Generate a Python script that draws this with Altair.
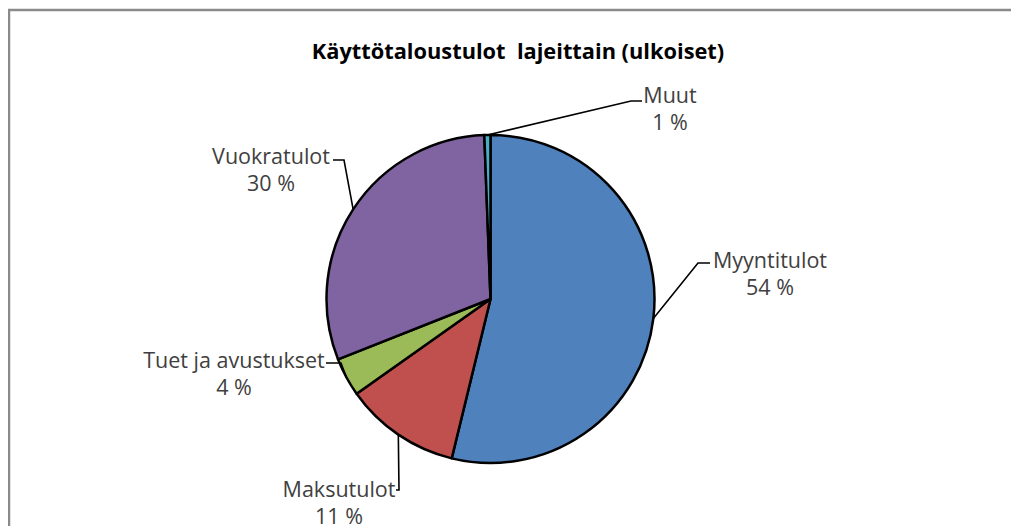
import math
import altair as alt
import pandas as pd

# ---- data ----
categories = ["Myyntitulot", "Maksutulot", "Tuet ja avustukset", "Vuokratulot", "Muut"]
values = [53.8, 11.4, 3.8, 30.4, 0.6]
colors = ["#4F81BD", "#C0504D", "#9BBB59", "#8064A2", "#4BACC6"]
title_text = "Käyttötaloustulot\u00a0 lajeittain (ulkoiset)"

# ---- layout (page pixel coordinates) ----
W, H = 1003, 518
OFF = 8
CX, CY, R = 490.5, 299.0, 164.0
FONT = "Open Sans"
label_pos = {  # centre of the first label line
    "Myyntitulot": (770, 262),
    "Maksutulot": (339, 491),
    "Tuet ja avustukset": (234, 362),
    "Vuokratulot": (271, 158),
    "Muut": (670, 97),
}
leader_pts = {  # elbow and end of each leader line
    "Myyntitulot": [(698, 263), (710, 263)],
    "Maksutulot": [(399, 490), (396, 490)],
    "Tuet ja avustukset": [(341, 363), (326, 363)],
    "Vuokratulot": [(344, 160), (333, 160)],
    "Muut": [(631, 101), (642, 101)],
}
LINE_GAP = 27

df = pd.DataFrame({"category": categories, "value": values, "idx": list(range(len(values)))})
total = sum(values)
df["pct"] = [f"{round(v / total * 100):.0f} %" for v in values]

# mid angles and leader starts
cum = 0.0
line_rows, text_rows = [], []
for cat, v in zip(categories, values):
    mid = (cum + v / 2) / total * 2 * math.pi
    cum += v
    sx = CX + R * math.sin(mid)
    sy = CY - R * math.cos(mid)
    pts = [(sx, sy)] + leader_pts[cat]
    for k, (px, py) in enumerate(pts):
        line_rows.append({"category": cat, "k": k, "x": px, "y": py})
    lx, ly = label_pos[cat]
    pct = df.loc[df.category == cat, "pct"].iloc[0]
    text_rows.append({"t": cat, "x": lx, "y": ly})
    text_rows.append({"t": pct, "x": lx, "y": ly + LINE_GAP})

lines_df = pd.DataFrame(line_rows)
text_df = pd.DataFrame(text_rows)

xs = alt.Scale(domain=[OFF, OFF + W], range=[0, W])
ys = alt.Scale(domain=[OFF, OFF + H], range=[0, H])

pie = alt.Chart(df).mark_arc(
    outerRadius=R, stroke="black", strokeWidth=2.5, strokeJoin="round"
).encode(
    theta=alt.Theta("value:Q", stack=True),
    order=alt.Order("idx:Q"),
    color=alt.Color("category:N", scale=alt.Scale(domain=categories, range=colors), legend=None),
    x=alt.value(CX - OFF),
    y=alt.value(CY - OFF),
)

leaders = alt.Chart(lines_df).mark_line(color="black", strokeWidth=1.6).encode(
    x=alt.X("x:Q", scale=xs, axis=None),
    y=alt.Y("y:Q", scale=ys, axis=None),
    detail="category:N",
    order="k:Q",
)

labels = alt.Chart(text_df).mark_text(
    font=FONT, fontSize=21.5, color="#404040", align="center", baseline="middle"
).encode(
    x=alt.X("x:Q", scale=xs, axis=None),
    y=alt.Y("y:Q", scale=ys, axis=None),
    text="t:N",
)

title = alt.Chart(pd.DataFrame({"t": [title_text]})).mark_text(
    font=FONT, fontSize=21.8, fontWeight="bold", color="black", align="center", baseline="middle"
).encode(
    x=alt.value(518 - OFF),
    y=alt.value(52 - OFF),
    text="t:N",
)

frame_top = alt.Chart(pd.DataFrame({"a": [0]})).mark_rule(color="#8a8a8a", strokeWidth=2.5).encode(
    x=alt.value(0), x2=alt.value(W), y=alt.value(2)
)
frame_left = alt.Chart(pd.DataFrame({"a": [0]})).mark_rule(color="#8a8a8a", strokeWidth=2.5).encode(
    x=alt.value(1), y=alt.value(1), y2=alt.value(H)
)

chart = alt.layer(frame_top, frame_left, pie, leaders, labels, title).properties(
    width=W, height=H, autosize=alt.AutoSizeParams(type="none"), padding=0
).configure_view(stroke=None).resolve_scale(color="independent")

chart.save("out.html", embed_options={"renderer": "svg", "actions": False})
